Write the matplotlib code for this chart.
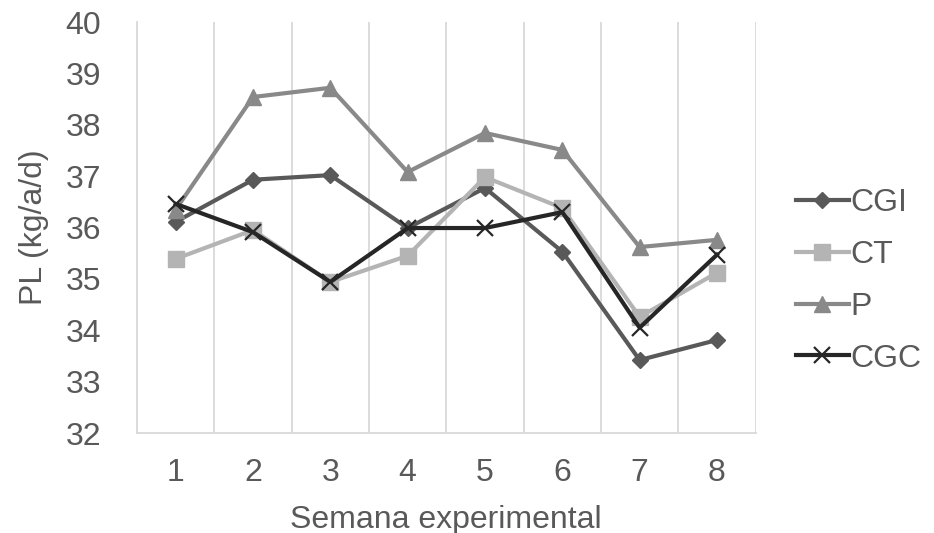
import matplotlib
matplotlib.use("Agg")
import matplotlib.pyplot as plt

weeks = [1, 2, 3, 4, 5, 6, 7, 8]
cgi = [36.11, 36.93, 37.02, 35.99, 36.77, 35.53, 33.42, 33.81]
ct = [35.39, 35.95, 34.94, 35.45, 36.98, 36.38, 34.26, 35.12]
p = [36.35, 38.54, 38.72, 37.08, 37.84, 37.51, 35.62, 35.76]
cgc = [36.46, 35.91, 34.94, 35.99, 35.99, 36.30, 34.05, 35.47]
yticks = [32, 33, 34, 35, 36, 37, 38, 39, 40]

plt.rcParams['font.family'] = ['Liberation Sans', 'DejaVu Sans']

fig = plt.figure(figsize=(9.34, 5.33), dpi=100)
ax = fig.add_axes([0.1467, 0.1876, 0.809 - 0.1467, 0.9587 - 0.1876])

lw = 3.0
ax.plot(weeks, cgi, color='#595959', lw=lw, marker='D', ms=8, label='CGI', zorder=3)
ax.plot(weeks, ct, color='#B4B4B4', lw=lw, marker='s', ms=11, label='CT', zorder=3)
ax.plot(weeks, p, color='#898989', lw=lw, marker='^', ms=11, label='P', zorder=3)
ax.plot(weeks, cgc, color='#262626', lw=lw, marker='x', ms=11, mew=1.6, label='CGC', zorder=4)

ax.set_xlim(0.5, 8.5)
ax.set_ylim(32, 40)
ax.set_yticks(yticks)
ax.set_xticks(weeks)
ax.set_xticks([x + 0.5 for x in range(0, 9)], minor=True)
ax.grid(True, which='minor', axis='x', color='#D9D9D9', lw=1.3)
ax.tick_params(which='both', length=0)
ax.tick_params(axis='y', pad=26, labelsize=23, labelcolor='#595959')
ax.tick_params(axis='x', pad=18, labelsize=23, labelcolor='#595959')
for s in ['top', 'right']:
    ax.spines[s].set_visible(False)
for s in ['left', 'bottom']:
    ax.spines[s].set_color('#D9D9D9')
    ax.spines[s].set_linewidth(1.3)

ax.set_xlabel('Semana experimental', fontsize=23, color='#595959', labelpad=12)
ax.set_ylabel('PL (kg/a/d)', fontsize=23, color='#595959', labelpad=12)

leg = fig.legend(loc='center left', bbox_to_anchor=(796 / 934, 1 - 281 / 533), frameon=False,
                 fontsize=23, handlelength=1.65, handletextpad=0.05,
                 labelspacing=0.68, borderaxespad=0, borderpad=0)
for t in leg.get_texts():
    t.set_color('#595959')

fig.savefig('out.png', dpi=100)
